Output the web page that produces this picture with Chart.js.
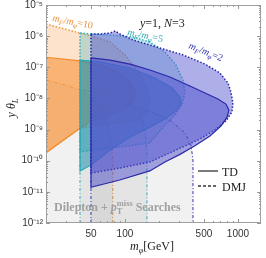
<!DOCTYPE html>
<html><head><meta charset="utf-8">
<script src="https://cdn.jsdelivr.net/npm/chart.js@4.4.1/dist/chart.umd.min.js"></script>
<style>html,body{margin:0;padding:0;background:#fff;}canvas{display:block;}</style>
</head><body>
<canvas id="c" width="266" height="258"></canvas>
<script>
// ---------- data (m_phi in GeV, y*theta_L) ----------
const massTicks = [50, 100, 500, 1000];
const massTickLabels = ['50', '100', '500', '1000'];
const couplingTicks = [1e-12, 1e-11, 1e-10, 1e-9, 1e-8, 1e-7, 1e-6, 1e-5];
const couplingTickLabels = ['10⁻¹²', '10⁻¹¹', '10⁻¹⁰', '10⁻⁹', '10⁻⁸', '10⁻⁷', '10⁻⁶', '10⁻⁵'];

// LHC dilepton + pTmiss exclusions
const orangeLhcMass = [20, 20, 29.5, 40, 51, 62.6, 70.8, 76.7, 78, 78];
const orangeLhcCoupling = [1e-12, 3.9e-8, 2.7e-8, 1.9e-8, 1.03e-8, 4.2e-9, 1.4e-9, 3.2e-10, 7.3e-11, 1e-12];
const tealLhcMass = [40, 40, 60, 90, 118, 139, 150, 156.5, 156.5];
const tealLhcCoupling = [1e-12, 1.9e-8, 1.5e-8, 1.03e-8, 6.6e-9, 2.9e-9, 9.7e-10, 2.2e-10, 1e-12];
const blueLhcMass = [50, 50, 90, 166, 250, 340, 384, 400, 400];
const blueLhcCoupling = [1e-12, 1.1e-8, 7.7e-9, 3.9e-9, 2.0e-9, 7.8e-10, 3.2e-10, 1.05e-10, 1e-12];

// m_F/m_phi = 10
const orangeDmjMass = [20, 40, 54, 74, 100, 128, 153, 166, 157, 130, 74, 40, 20];
const orangeDmjCoupling = [2.45e-6, 1.26e-6, 9.4e-7, 6.5e-7, 2.5e-7, 8.2e-8, 2.7e-8, 8.9e-9, 3.7e-9, 2.0e-9, 1.5e-9, 1.1e-9, 1.8e-10];
const orangeTdMass = [20, 40, 60, 87, 111, 125, 118, 94, 66.5, 49, 40, 20];
const orangeTdCoupling = [2.1e-7, 1.6e-7, 1.2e-7, 7.0e-8, 3.4e-8, 1.5e-8, 7.1e-9, 4.2e-9, 2.7e-9, 1.75e-9, 1.1e-9, 1.8e-10];

// m_F/m_phi = 5
const tealDmjMass = [40, 50, 74, 118, 166, 226, 282, 326, 340, 319, 277, 226, 166, 90, 51, 40];
const tealDmjCoupling = [1.26e-6, 1.17e-6, 1.09e-6, 9.4e-7, 6.5e-7, 3.1e-7, 1.2e-7, 3.9e-8, 1.6e-8, 6.2e-9, 2.9e-9, 1.4e-9, 3.7e-10, 2.75e-10, 2.2e-10, 1.9e-10];
const tealTdMass = [40, 60, 111, 184, 261, 307, 313, 282, 226, 166, 111, 74, 50, 40];
const tealTdCoupling = [1.7e-7, 1.5e-7, 9.5e-8, 4.5e-8, 2.2e-8, 1.1e-8, 6.6e-9, 3.9e-9, 2.2e-9, 1.2e-9, 5.8e-10, 2.2e-10, 7.3e-11, 4.7e-11];

// m_F/m_phi = 2
const blueDmjMass = [50, 60, 74, 82, 90, 118, 166, 326, 511, 693, 817, 867, 903, 885, 784, 626, 461, 340, 250, 166, 90, 50];
const blueDmjCoupling = [1.17e-6, 1.17e-6, 1.26e-6, 1.46e-6, 1.17e-6, 7.5e-7, 5.2e-7, 2.5e-7, 1.27e-7, 6.5e-8, 3.1e-8, 1.6e-8, 7.1e-9, 3.7e-9, 1.9e-9, 9.7e-10, 5.0e-10, 2.96e-10, 1.8e-10, 9.1e-11, 5.8e-11, 4.0e-11];
const blueTdMass = [50, 74, 111, 166, 250, 376, 511, 665, 784, 832, 800, 707, 565, 416, 307, 226, 166, 90, 50];
const blueTdCoupling = [2.0e-7, 1.7e-7, 1.27e-7, 8.2e-8, 4.9e-8, 2.5e-8, 1.5e-8, 9.6e-9, 6.6e-9, 4.2e-9, 2.5e-9, 1.3e-9, 6.2e-10, 3.0e-10, 1.6e-10, 9.1e-11, 4.7e-11, 2.4e-11, 1.4e-11];

// ---------- build ----------
const pts = (xs, ys, close) => {
  const d = xs.map((x, i) => ({x: x, y: ys[i]}));
  if (close) d.push({x: d[0].x, y: d[0].y});
  return d;
};
const DOT = [1.5, 1.8], DASHDOT = [3, 2, 1, 2];
const datasets = [
  {label: 'LHC 10', data: pts(orangeLhcMass, orangeLhcCoupling, false), backgroundColor: 'rgba(0,0,0,0.055)', borderColor: '#e89a48', borderWidth: 1, borderDash: DASHDOT},
  {label: 'LHC 5', data: pts(tealLhcMass, tealLhcCoupling, false), backgroundColor: 'rgba(0,0,0,0.055)', borderColor: '#30b0ba', borderWidth: 1, borderDash: DASHDOT},
  {label: 'LHC 2', data: pts(blueLhcMass, blueLhcCoupling, false), backgroundColor: 'rgba(0,0,0,0.055)', borderColor: '#3030b0', borderWidth: 1, borderDash: DASHDOT},
  {label: 'DMJ 10', data: pts(orangeDmjMass, orangeDmjCoupling, false), backgroundColor: 'rgba(250,165,95,0.32)', borderColor: '#ee9838', borderWidth: 1.5, borderDash: DOT},
  {label: 'TD 10', data: pts(orangeTdMass, orangeTdCoupling, false), backgroundColor: 'rgba(245,140,45,0.55)', borderColor: '#f08c2c', borderWidth: 1.2},
  {label: 'DMJ 5', data: pts(tealDmjMass, tealDmjCoupling, true), backgroundColor: 'rgba(60,175,190,0.30)', borderColor: '#2fb0bb', borderWidth: 1.5, borderDash: DOT},
  {label: 'TD 5', data: pts(tealTdMass, tealTdCoupling, true), backgroundColor: 'rgba(30,145,172,0.55)', borderColor: '#28a8b8', borderWidth: 1.2},
  {label: 'DMJ 2', data: pts(blueDmjMass, blueDmjCoupling, true), backgroundColor: 'rgba(85,85,210,0.48)', borderColor: '#2525a8', borderWidth: 1.5, borderDash: DOT},
  {label: 'TD 2', data: pts(blueTdMass, blueTdCoupling, true), backgroundColor: 'rgba(80,80,205,0.5)', borderColor: '#2a2aa8', borderWidth: 1.2}
];
datasets.forEach((d, i) => { d.order = datasets.length - i; d.fill = 'shape'; d.pointRadius = 0; d.pointHoverRadius = 0; d.tension = 0; });

function drawRich(ctx, segs, x, y, o) {
  const size = o.size, fam = o.family || 'Liberation Serif';
  const fontFor = (s, it) => (it ? 'italic ' : '') + (o.bold ? 'bold ' : '') + s + 'px "' + fam + '"';
  const items = []; let w = 0;
  for (const s of segs) {
    if (s.stack) {
      ctx.font = fontFor(size * 0.7, s.it);
      const w1 = ctx.measureText(s.sub).width, w2 = ctx.measureText(s.sup).width;
      items.push({s: s, x: w}); w += Math.max(w1, w2);
    } else {
      const sz = (s.sub || s.sup) ? size * 0.7 : size;
      ctx.font = fontFor(sz, s.it);
      items.push({s: s, x: w, sz: sz}); w += ctx.measureText(s.t).width;
    }
  }
  ctx.save();
  ctx.translate(x, y); ctx.rotate(o.angle || 0);
  const x0 = o.align === 'center' ? -w / 2 : 0;
  ctx.fillStyle = o.color; ctx.textBaseline = 'alphabetic'; ctx.textAlign = 'left';
  for (const it of items) {
    const s = it.s;
    if (s.stack) {
      ctx.font = fontFor(size * 0.7, s.it);
      ctx.fillText(s.sub, x0 + it.x, size * 0.28);
      ctx.fillText(s.sup, x0 + it.x, -size * 0.42);
    } else {
      ctx.font = fontFor(it.sz, s.it);
      const dy = s.sub ? size * 0.25 : s.sup ? -size * 0.45 : 0;
      ctx.fillText(s.t, x0 + it.x, dy);
    }
  }
  ctx.restore();
}
const ratioSegs = n => [{t: 'm', it: 1}, {t: 'F', it: 1, sub: 1}, {t: '/'}, {t: 'm', it: 1}, {t: 'φ', it: 1, sub: 1}, {t: '=' + n}];

const framePlugin = {
  id: 'frame',
  afterDatasetsDraw(chart) {
    const ctx = chart.ctx, a = chart.chartArea, xs = chart.scales.x, ys = chart.scales.y;
    ctx.save();
    ctx.strokeStyle = '#a0a0a0'; ctx.lineWidth = 1;
    ctx.strokeRect(a.left + 0.5, a.top + 0.5, a.right - a.left - 1, a.bottom - a.top - 1);
    ctx.strokeStyle = '#999';
    ctx.beginPath();
    for (let e = -12; e <= -5; e++) {
      for (let m = 1; m <= 9; m++) {
        const v = m * Math.pow(10, e);
        if (v > 1.0001e-5) break;
        const py = Math.round(ys.getPixelForValue(v)) + 0.5;
        const L = m === 1 ? 4 : 2;
        ctx.moveTo(a.left, py); ctx.lineTo(a.left + L, py);
        ctx.moveTo(a.right, py); ctx.lineTo(a.right - L, py);
      }
    }
    for (let e = 1; e <= 3; e++) {
      for (let m = 1; m <= 9; m++) {
        const v = m * Math.pow(10, e);
        if (v < 20 || v > 1600) continue;
        const px = Math.round(xs.getPixelForValue(v)) + 0.5;
        const L = massTicks.indexOf(v) >= 0 ? 4 : 2;
        ctx.moveTo(px, a.bottom); ctx.lineTo(px, a.bottom - L);
        ctx.moveTo(px, a.top); ctx.lineTo(px, a.top + L);
      }
    }
    ctx.stroke();
    ctx.restore();
  },
  afterDraw(chart) {
    const ctx = chart.ctx;
    drawRich(ctx, [{t: 'y', it: 1}, {t: '=1, '}, {t: 'N', it: 1}, {t: '=3'}], 140, 27, {size: 12, color: '#222'});
    drawRich(ctx, ratioSegs('10'), 52, 21, {size: 10, color: '#e8903a', angle: 0.19});
    drawRich(ctx, ratioSegs('5'), 127, 35, {size: 10, color: '#2aa8b2', angle: 0.2});
    drawRich(ctx, ratioSegs('2'), 188, 48, {size: 10, color: '#3232b0', angle: 0.38});
    drawRich(ctx, [{t: 'Dilepton + '}, {t: 'p', it: 1}, {stack: 1, sub: 'T', sup: 'miss'}, {t: ' Searches'}], 54, 211, {size: 12, color: '#a0a0a0', bold: true});
    // legend
    ctx.save();
    ctx.strokeStyle = '#333'; ctx.lineWidth = 1.3;
    ctx.beginPath(); ctx.moveTo(198, 171); ctx.lineTo(218, 171); ctx.stroke();
    ctx.setLineDash([3, 2]);
    ctx.beginPath(); ctx.moveTo(198, 186); ctx.lineTo(218, 186); ctx.stroke();
    ctx.restore();
    drawRich(ctx, [{t: 'TD'}], 222, 175.5, {size: 12, color: '#222'});
    drawRich(ctx, [{t: 'DMJ'}], 222, 190.5, {size: 12, color: '#222'});
    // axis titles
    drawRich(ctx, [{t: 'm', it: 1}, {t: 'φ', it: 1, sub: 1}, {t: '[GeV]'}], 130, 250, {size: 12, color: '#222'});
    drawRich(ctx, [{t: 'y θ', it: 1}, {t: 'L', it: 1, sub: 1}], 15, 108, {size: 12, color: '#222', angle: -Math.PI / 2, align: 'center'});
  }
};

new Chart(document.getElementById('c'), {
  type: 'line',
  data: {datasets: datasets},
  options: {
    responsive: false, animation: false, devicePixelRatio: 1,
    layout: {padding: {top: 5, right: 5, left: 0, bottom: 0}},
    plugins: {legend: {display: false}, tooltip: {enabled: false}, filler: {drawTime: 'beforeDatasetDraw'}},
    scales: {
      x: {
        type: 'logarithmic', min: 20, max: 1600,
        grid: {display: false, drawTicks: false}, border: {display: false},
        ticks: {font: {family: 'Liberation Sans', size: 10}, color: '#333', padding: 5, maxRotation: 0, autoSkip: false,
                callback: (v, i) => massTickLabels[i]},
        afterBuildTicks: s => { s.ticks = massTicks.map(v => ({value: v})); },
        afterFit: s => { s.height = 35; s.paddingLeft = 0; s.paddingRight = 0; }
      },
      y: {
        type: 'logarithmic', min: 1e-12, max: 1e-5,
        grid: {display: false, drawTicks: false}, border: {display: false},
        ticks: {font: {family: 'Liberation Sans', size: 10}, color: '#333', padding: 3, autoSkip: false,
                callback: (v, i) => couplingTickLabels[i]},
        afterBuildTicks: s => { s.ticks = couplingTicks.map(v => ({value: v})); },
        afterFit: s => { s.width = 46; s.paddingTop = 0; s.paddingBottom = 0; }
      }
    }
  },
  plugins: [framePlugin]
});
</script>
</body></html>
